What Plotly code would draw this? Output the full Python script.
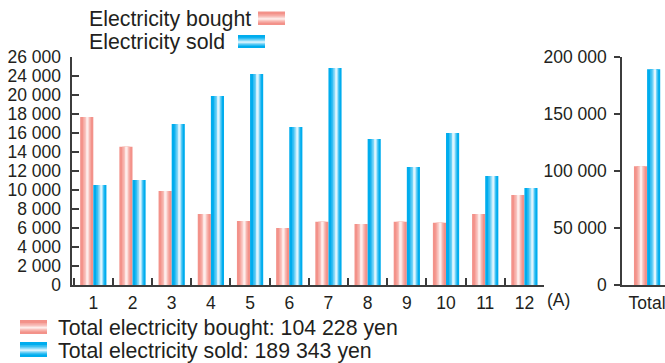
import plotly.graph_objects as go

# monthly values (yen)
months = ['1', '2', '3', '4', '5', '6', '7', '8', '9', '10', '11', '12']
bought = [17680, 14560, 9900, 7470, 6740, 6000, 6670, 6420, 6670, 6560, 7470, 9470]
sold = [10530, 11050, 16950, 19900, 22210, 16630, 22840, 15370, 12420, 16000, 11470, 10210]

total_label = ['Total']
total_bought = 104228
total_sold = 189343

# left axis as printed (note: the chart skips 22 000)
left_tickvals = [0, 2000, 4000, 6000, 8000, 10000, 12000, 14000, 16000, 18000, 20000, 22000, 24000]
left_ticktext = ['0', '2 000', '4 000', '6 000', '8 000', '10 000', '12 000', '14 000',
                 '16 000', '18 000', '20 000', '24 000', '26 000']
right_tickvals = [0, 50000, 100000, 150000, 200000]

W, H = 665, 363
RED, RED_LIGHT = '#F3928A', '#FFF4F2'
BLUE, BLUE_LIGHT = '#00ADEE', '#EFFAFF'
TXT = '#231F20'
AX = '#3C3C3C'
FONT = 'Liberation Sans, Arial, sans-serif'


def fmt(v):
    return f'{v:,}'.replace(',', ' ')


def px(x):
    return x / W


def py(y):
    return 1 - y / H


def mix(c1, c2, t):
    a = [int(c1[i:i + 2], 16) for i in (1, 3, 5)]
    b = [int(c2[i:i + 2], 16) for i in (1, 3, 5)]
    return 'rgb(%d,%d,%d)' % tuple(round(a[k] + (b[k] - a[k]) * t) for k in range(3))


# nested layers -> fake cylinder shading
layers = [(1.0, 0.0), (0.62, 0.22), (0.42, 0.45), (0.24, 0.7), (0.1, 0.93)]


def shaded_bars(fig, x, y, offset, width, edge, light, hl, xa, ya):
    for f, t in layers:
        fig.add_trace(go.Bar(x=x, y=y, offset=offset + width * hl * (1 - f), width=width * f,
                             marker=dict(color=mix(edge, light, t), line=dict(width=0)),
                             showlegend=False, hoverinfo='skip', xaxis=xa, yaxis=ya))


def swatch(fig, x0, x1, y0, y1, edge, light, hl):
    for f, t in layers:
        top = y0 + (y1 - y0) * hl * (1 - f)
        fig.add_shape(type='rect', xref='paper', yref='paper',
                      x0=px(x0), x1=px(x1), y0=py(top), y1=py(top + (y1 - y0) * f),
                      fillcolor=mix(edge, light, t), line=dict(width=0), layer='above')


fig = go.Figure()
bw = 0.335
shaded_bars(fig, months, bought, -bw, bw, RED, RED_LIGHT, 0.55, 'x', 'y')
shaded_bars(fig, months, sold, 0.0, bw, BLUE, BLUE_LIGHT, 0.6, 'x', 'y')
shaded_bars(fig, total_label, [total_bought], -bw, bw, RED, RED_LIGHT, 0.55, 'x2', 'y2')
shaded_bars(fig, total_label, [total_sold], 0.0, bw, BLUE, BLUE_LIGHT, 0.6, 'x2', 'y2')

axis_common = dict(showline=True, linecolor=AX, linewidth=1.5, tickcolor=AX, tickwidth=1.5,
                   showgrid=False, zeroline=False, automargin=False,
                   tickfont=dict(size=17.5, color=TXT, family=FONT))

fig.update_layout(
    width=W, height=H,
    margin=dict(l=0, r=0, t=0, b=0),
    paper_bgcolor='white', plot_bgcolor='white',
    barmode='overlay', showlegend=False,
    font=dict(family=FONT, color=TXT),
    xaxis=dict(axis_common, type='category', categoryorder='array', categoryarray=months,
               domain=[px(72.3), px(544)], range=[-0.536, 11.5], anchor='y',
               ticks='inside', tickson='boundaries', ticklen=7, ticklabelstandoff=1),
    yaxis=dict(axis_common, domain=[py(285), py(57)], range=[0, 24000], anchor='x',
               tickmode='array', tickvals=left_tickvals, ticktext=left_ticktext,
               ticks='inside', ticklen=7, ticklabelstandoff=6),
    xaxis2=dict(axis_common, type='category', domain=[px(622), 1], range=[-0.64, 0.457],
                anchor='y2', ticks='', ticklabelstandoff=1),
    yaxis2=dict(axis_common, domain=[py(285), py(57)], range=[0, 200000], anchor='x2',
                tickmode='array', tickvals=right_tickvals,
                ticktext=[fmt(v) for v in right_tickvals],
                ticks='outside', ticklen=6, ticklabelstandoff=4),
)

# legend-style labels: text first, swatch after it
notes = [
    ('Electricity bought', 87, 19),
    ('Electricity sold', 87, 42),
    (f'Total electricity bought: {fmt(total_bought)} yen', 56, 328),
    (f'Total electricity sold: {fmt(total_sold)} yen', 56, 351),
]
for text, x, y in notes:
    fig.add_annotation(text=text, xref='paper', yref='paper', x=px(x), y=py(y),
                       xanchor='left', yanchor='middle', showarrow=False,
                       font=dict(size=21.3, color=TXT, family=FONT))
fig.add_annotation(text='(A)', xref='paper', yref='paper', x=px(545), y=py(300),
                   xanchor='left', yanchor='middle', showarrow=False,
                   font=dict(size=17.5, color=TXT, family=FONT))

swatch(fig, 258, 285, 11.5, 25, RED, RED_LIGHT, 0.55)
swatch(fig, 238, 265, 35, 48, BLUE, BLUE_LIGHT, 0.55)
swatch(fig, 20, 47, 320, 334, RED, RED_LIGHT, 0.55)
swatch(fig, 20, 47, 342, 357, BLUE, BLUE_LIGHT, 0.55)

# page body has a default 8px margin; drop it so the figure fills the window
fig.write_html('out.html', config={'displayModeBar': False},
               post_script="document.body.style.margin='0';document.body.style.overflow='hidden';")
